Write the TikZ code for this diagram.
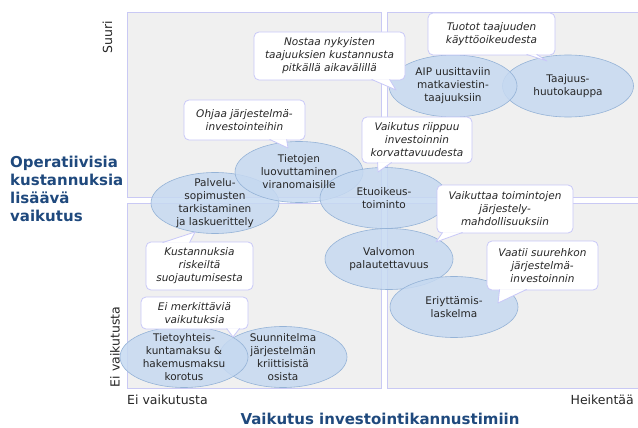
\documentclass[tikz,border=0pt]{standalone}
\usepackage{fontspec}
\setmainfont{DejaVu Sans}
\usetikzlibrary{shapes.geometric}

\definecolor{quadgray}{HTML}{F0F0F0}
\definecolor{quadline}{HTML}{C9C9F4}
\definecolor{blobfill}{HTML}{C6D9F1}
\definecolor{blobline}{HTML}{95B3D7}
\definecolor{noteline}{HTML}{C8C8F8}
\definecolor{titleblue}{HTML}{1F497D}

\begin{document}
\begin{tikzpicture}[
    x=1pt, y=-1pt,
    quadbox/.style={fill=quadgray, draw=quadline, line width=0.9pt},
    blob/.style={ellipse, draw=blobline, fill=blobfill, fill opacity=0.85, line width=0.6pt, minimum width=128pt, minimum height=61pt, inner sep=0pt},
    blobtext/.style={inner sep=0pt, align=center, text=black!85, font=\fontsize{10.5}{13}\selectfont},
    note/.style={rectangle, rounded corners=5pt, draw=noteline, fill=white, line width=0.8pt, inner sep=1pt, align=center, text=black!85, font=\fontsize{10.5}{13}\selectfont\itshape},
    notetip/.style={draw=noteline, fill=white, line width=0.8pt, line join=round},
    axlabel/.style={inner sep=0pt, text=black!85, font=\fontsize{12.5}{15}\selectfont},
    axtitle/.style={inner sep=0pt, text=titleblue, font=\fontsize{15}{18}\selectfont\bfseries}
  ]

  \useasboundingbox (0,0) rectangle (638,428);

  % Quadrants
  \draw[quadbox] (127,12) rectangle (381,197.5);
  \draw[quadbox] (387,12) rectangle (640,197.5);
  \draw[quadbox] (127,203.5) rectangle (381,388);
  \draw[quadbox] (387,203.5) rectangle (640,388);

  % Measures
  \node[blob] (palvelu) at (215,203) {};
  \node[blob] (tieto) at (299,172) {};
  \node[blob] (etuoik) at (384,198) {};
  \node[blob] (valvomo) at (389,259) {};
  \node[blob] (eriytys) at (454,307) {};
  \node[blob, minimum width=131pt, minimum height=62pt] (huuto) at (568,86) {};
  \node[blob, minimum height=62pt] (aip) at (453,86) {};
  \node[blob] (suunn) at (283,357) {};
  \node[blob] (tyk) at (184,357) {};

  \node[blobtext] (palveluTxt) at (palvelu) {Palvelu-\\sopimusten\\tarkistaminen\\ja laskuerittely};
  \node[blobtext] (tietoTxt) at (tieto) {Tietojen\\luovuttaminen\\viranomaisille};
  \node[blobtext] (etuoikTxt) at (etuoik) {Etuoikeus-\\toiminto};
  \node[blobtext] (valvomoTxt) at (valvomo) {Valvomon\\palautettavuus};
  \node[blobtext] (eriytysTxt) at (eriytys) {Eriyttämis-\\laskelma};
  \node[blobtext] (huutoTxt) at (huuto) {Taajuus-\\huutokauppa};
  \node[blobtext] (aipTxt) at (aip) {AIP uusittaviin\\matkaviestin-\\taajuuksiin};
  \node[blobtext] (suunnTxt) at (suunn) {Suunnitelma\\järjestelmän\\kriittisistä\\osista};
  \node[blobtext] (tykTxt) at (tyk) {Tietoyhteis-\\kuntamaksu \&\\hakemusmaksu\\korotus};

  % Comments
  \node[note, minimum width=151pt, minimum height=48pt] (nostaa) at (329.5,56) {Nostaa nykyisten\\taajuuksien kustannusta\\pitkällä aikavälillä};
  \node[note, minimum width=127pt, minimum height=42pt] (tuotot) at (491.5,34) {Tuotot taajuuden\\käyttöoikeudesta};
  \node[note, minimum width=121pt, minimum height=40pt] (ohjaa) at (244.5,120) {Ohjaa järjestelmä-\\investointeihin};
  \node[note, minimum width=110pt, minimum height=46pt] (riippuu) at (417,140) {Vaikutus riippuu\\investoinnin\\korvattavuudesta};
  \node[note, minimum width=136pt, minimum height=48pt] (jarj) at (505,209) {Vaikuttaa toimintojen\\järjestely-\\mahdollisuuksiin};
  \node[note, minimum width=111pt, minimum height=49pt] (vaatii) at (542.5,265.5) {Vaatii suurehkon\\järjestelmä-\\investoinnin};
  \node[note, minimum width=107pt, minimum height=48pt] (riski) at (199.5,266) {Kustannuksia\\riskeiltä\\suojautumisesta};
  \node[note, minimum width=107pt, minimum height=32pt] (eimerk) at (194.5,313) {Ei merkittäviä\\vaikutuksia};

  % Comment pointers
  \coordinate (nostaaTip) at (396,90);
  \coordinate (tuototTip) at (547,61);
  \coordinate (ohjaaTip) at (288,148);
  \coordinate (riippuuTip) at (378,172);
  \coordinate (jarjTip) at (436,242);
  \coordinate (vaatiiTip) at (498,303);
  \coordinate (riskiTip) at (195,232);
  \coordinate (eimerkTip) at (233,337);
  \draw[notetip] ([xshift=118pt,yshift=1pt]nostaa.south west) -- (nostaaTip) -- ([xshift=136pt,yshift=1pt]nostaa.south west);
  \draw[notetip] ([xshift=99pt,yshift=1pt]tuotot.south west) -- (tuototTip) -- ([xshift=109pt,yshift=1pt]tuotot.south west);
  \draw[notetip] ([xshift=86pt,yshift=1pt]ohjaa.south west) -- (ohjaaTip) -- ([xshift=103pt,yshift=1pt]ohjaa.south west);
  \draw[notetip] ([xshift=16pt,yshift=1pt]riippuu.south west) -- (riippuuTip) -- ([xshift=30pt,yshift=1pt]riippuu.south west);
  \draw[notetip] ([xshift=6pt,yshift=1pt]jarj.south west) -- (jarjTip) -- ([xshift=26pt,yshift=1pt]jarj.south west);
  \draw[notetip] ([xshift=13pt,yshift=1pt]vaatii.south west) -- (vaatiiTip) -- ([xshift=40pt,yshift=1pt]vaatii.south west);
  \draw[notetip] ([xshift=17pt,yshift=-1pt]riski.north west) -- (riskiTip) -- ([xshift=44pt,yshift=-1pt]riski.north west);
  \draw[notetip] ([xshift=86pt,yshift=1pt]eimerk.south west) -- (eimerkTip) -- ([xshift=99pt,yshift=1pt]eimerk.south west);

  % Axes
  \node[axlabel, rotate=90] (suuri) at (107.5,37) {Suuri};
  \node[axlabel, rotate=90] (eivy) at (115,347) {Ei vaikutusta};
  \node[axlabel, anchor=west] (eivx) at (127,400) {Ei vaikutusta};
  \node[axlabel, anchor=east] (heik) at (634,400) {Heikentää};
  \node[axtitle, anchor=west, align=left] (ytitle) at (10,189) {Operatiivisia\\kustannuksia\\lisäävä\\vaikutus};
  \node[axtitle] (xtitle) at (380,419) {Vaikutus investointikannustimiin};

\end{tikzpicture}
\end{document}
